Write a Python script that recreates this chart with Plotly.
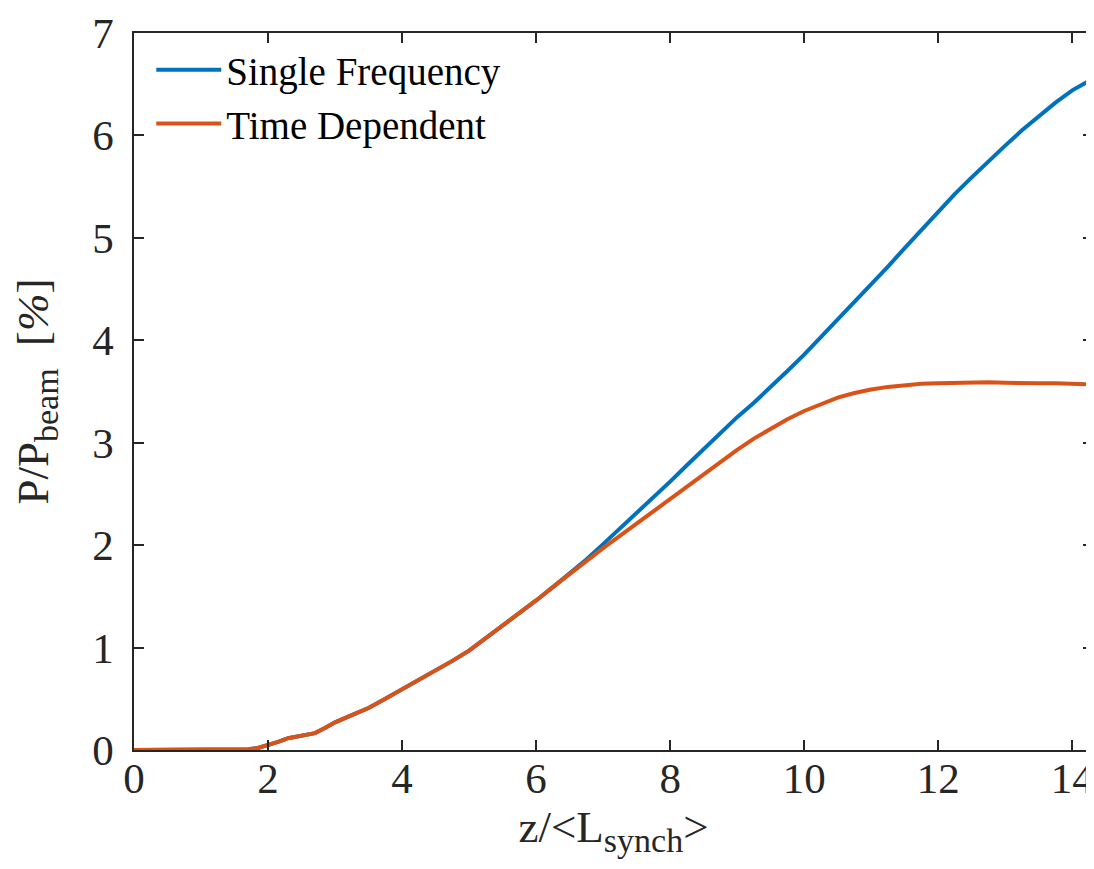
import plotly.graph_objects as go

# z / <L_synch>
z_vals = [0, 0.5, 1.0, 1.5, 1.7, 1.85, 2.0, 2.15, 2.3, 2.5, 2.7, 2.85, 3.0, 3.25, 3.5,
          3.75, 4.0, 4.25, 4.5, 4.75, 5.0, 5.25, 5.5, 5.75, 6.0, 6.25, 6.5, 6.75, 7.0,
          7.25, 7.5, 7.75, 8.0, 8.25, 8.5, 8.75, 9.0, 9.25, 9.5, 9.75, 10.0, 10.25, 10.5,
          10.75, 11.0, 11.25, 11.5, 11.75, 12.0, 12.25, 12.5, 12.75, 13.0, 13.25, 13.5,
          13.75, 14.0, 14.3]

# P/P_beam [%]
single_freq = [0, 0, 0, 0.002, 0.008, 0.02, 0.045, 0.08, 0.115, 0.14, 0.165, 0.215, 0.27,
               0.34, 0.41, 0.50, 0.59, 0.68, 0.77, 0.87, 0.97, 1.09, 1.21, 1.34, 1.46,
               1.59, 1.72, 1.86, 2.01, 2.16, 2.31, 2.46, 2.62, 2.78, 2.94, 3.10, 3.25,
               3.39, 3.54, 3.70, 3.86, 4.03, 4.20, 4.37, 4.54, 4.72, 4.90, 5.08, 5.26,
               5.43, 5.59, 5.75, 5.90, 6.05, 6.19, 6.32, 6.44, 6.55]

time_dep = [0, 0, 0, 0.002, 0.008, 0.02, 0.045, 0.08, 0.115, 0.14, 0.165, 0.215, 0.27,
            0.34, 0.41, 0.50, 0.59, 0.68, 0.77, 0.87, 0.97, 1.09, 1.21, 1.34, 1.46,
            1.59, 1.72, 1.85, 1.97, 2.09, 2.21, 2.33, 2.45, 2.57, 2.70, 2.82, 2.93,
            3.04, 3.14, 3.23, 3.31, 3.38, 3.44, 3.485, 3.52, 3.545, 3.56, 3.575, 3.58,
            3.585, 3.59, 3.59, 3.585, 3.58, 3.58, 3.58, 3.575, 3.57]

x_ticks = [0, 2, 4, 6, 8, 10, 12, 14]
y_ticks = [0, 1, 2, 3, 4, 5, 6, 7]

font = "Liberation Serif"
axis_col = "#262626"

fig = go.Figure()
fig.add_trace(go.Scatter(x=z_vals, y=single_freq, mode="lines", name="Single Frequency",
                         line=dict(color="#0072BD", width=4), cliponaxis=False))
fig.add_trace(go.Scatter(x=z_vals, y=time_dep, mode="lines", name="Time Dependent",
                         line=dict(color="#D95319", width=4), cliponaxis=False))

axis_common = dict(
    showgrid=False, zeroline=False, showline=True, linecolor=axis_col, linewidth=1.5,
    mirror="ticks", ticks="inside", ticklen=10, tickwidth=1.5, tickcolor=axis_col,
    tickfont=dict(family=font, size=43, color="#262626"), automargin=False,
    ticklabeloverflow="allow",
)

fig.update_xaxes(range=[0, 14.31], tickvals=x_ticks, ticklabelstandoff=-10,
                 title=dict(text="z/&lt;L<sub><span style='font-size:34px'>synch</span></sub>&gt;",
                            font=dict(family=font, size=45, color="#262626"), standoff=4),
                 **axis_common)
fig.update_yaxes(range=[0, 7], tickvals=y_ticks, ticklabelstandoff=10,
                 title=dict(text="P/P<sub><span style='font-size:34px'>beam</span></sub>  [<i>%</i>]",
                            font=dict(family=font, size=45, color="#262626"), standoff=29),
                 **axis_common)

fig.update_layout(
    width=1094, height=869,
    font=dict(family=font, color="#262626"),
    margin=dict(l=126, r=9, t=25, b=127),
    paper_bgcolor="white", plot_bgcolor="white",
    legend=dict(x=0.018, y=0.993, xanchor="left", yanchor="top", bgcolor="rgba(0,0,0,0)",
                font=dict(family=font, size=39, color="black"), itemwidth=65,
                tracegroupgap=0),
    showlegend=True,
)

fig.write_html("out.html")
